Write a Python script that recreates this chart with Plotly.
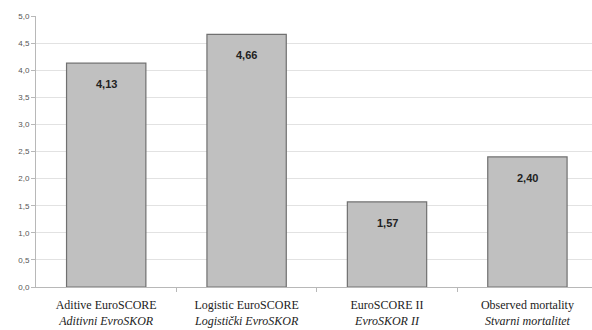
import plotly.graph_objects as go

categories_en = ["Aditive EuroSCORE", "Logistic EuroSCORE", "EuroSCORE II", "Observed mortality"]
categories_hr = ["Aditivni EvroSKOR", "Logistički EvroSKOR", "EvroSKOR II", "Stvarni mortalitet"]
values = [4.13, 4.66, 1.57, 2.40]
y_ticks = [0.0, 0.5, 1.0, 1.5, 2.0, 2.5, 3.0, 3.5, 4.0, 4.5, 5.0]

x_pos = list(range(len(values)))
tick_text = [f"{en}<br><i>{hr}</i>" for en, hr in zip(categories_en, categories_hr)]
separators = [p + 0.5 for p in x_pos[:-1]]

fig = go.Figure()
fig.add_trace(go.Bar(
    x=x_pos, y=values, width=0.565,
    marker=dict(color="#c0c0c0", line=dict(color="#707070", width=1.2)),
    hoverinfo="skip",
))

for xi, v in zip(x_pos, values):
    fig.add_annotation(
        x=xi, y=v, yshift=-21, showarrow=False,
        text=f"<b>{v:.2f}</b>".replace(".", ","),
        font=dict(family="Liberation Sans", size=11, color="#222222"),
    )

fig.update_layout(
    width=592, height=330,
    margin=dict(l=36, r=0, t=16, b=43),
    plot_bgcolor="white", paper_bgcolor="white",
    showlegend=False,
    separators=",.",
)
fig.update_xaxes(
    range=[-0.5, 3.46], tickmode="array", tickvals=x_pos, ticktext=tick_text,
    showgrid=False, showline=True, linecolor="#b8b8b8", linewidth=1,
    tickfont=dict(family="Liberation Serif, Times New Roman, serif", size=12, color="#222222"),
    ticks="outside", ticklen=7, tickcolor="rgba(0,0,0,0)",
    minor=dict(tickmode="array", tickvals=separators, ticks="outside",
               ticklen=4, tickcolor="#b8b8b8", showgrid=False),
    zeroline=False,
)
fig.update_yaxes(
    range=[0, 5.0], tickmode="array", tickvals=y_ticks, tickformat=".1f",
    showgrid=True, gridcolor="#e2e2e2", gridwidth=1,
    showline=True, linecolor="#b8b8b8", linewidth=1,
    ticks="outside", ticklen=4, tickcolor="#b8b8b8",
    tickfont=dict(family="Liberation Sans", size=8, color="#555555"),
    zeroline=False,
)

fig.write_html("out.html")
